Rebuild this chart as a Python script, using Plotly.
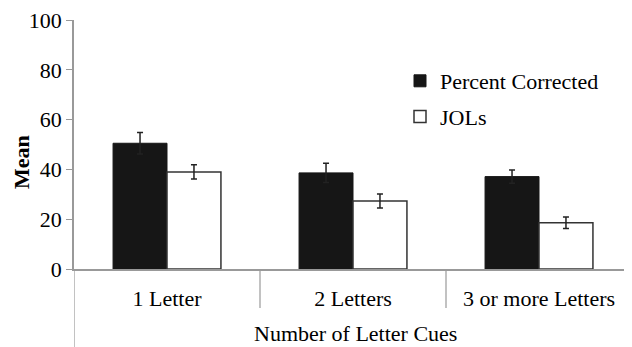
import plotly.graph_objects as go

categories = ["1 Letter", "2 Letters", "3 or more Letters"]
percent_corrected = [50.5, 38.6, 37.1]
percent_corrected_err = [4.3, 3.9, 2.7]
jols = [39.0, 27.3, 18.6]
jols_err = [2.9, 2.8, 2.3]
y_ticks = [0, 20, 40, 60, 80, 100]

FONT = "Times New Roman, Liberation Serif, serif"
FS = 22
OFF = 8  # page body margin
W, H = 632 - OFF, 347 - OFF
L, R, T = 74 - OFF, 0, 20 - OFF
BOTTOM = 269 - OFF
B = H - BOTTOM
plot_h = H - T - B
plot_w = W - L - R

fig = go.Figure()
fig.add_trace(go.Bar(
    x=categories, y=percent_corrected, name="Percent Corrected",
    legendgroup="a",
    marker=dict(color="#161616", line=dict(color="#161616", width=1)),
    error_y=dict(type="data", array=percent_corrected_err, color="#222222",
                 thickness=1.5, width=3),
))
fig.add_trace(go.Bar(
    x=categories, y=jols, name="JOLs",
    legendgroup="b",
    marker=dict(color="white", line=dict(color="#333333", width=1.5)),
    error_y=dict(type="data", array=jols_err, color="#222222",
                 thickness=1.5, width=3),
))

for xv in [0.5, 1.5]:
    fig.add_shape(type="line", xref="x", yref="paper", x0=xv, x1=xv,
                  y0=0, y1=-(308 - 269) / plot_h,
                  line=dict(color="#999999", width=1.2))
fig.add_shape(type="line", xref="x", yref="paper", x0=-0.5, x1=-0.5,
              y0=0, y1=-(347 - 269) / plot_h,
              line=dict(color="#999999", width=1.2))

fig.add_annotation(text="Number of Letter Cues", xref="paper", yref="paper",
                   x=(355 - 74) / plot_w, y=-(319 - 269) / plot_h,
                   xanchor="center", yanchor="top", showarrow=False,
                   font=dict(family=FONT, size=FS, color="black"))
fig.add_annotation(text="<b>Mean</b>", xref="paper", yref="paper",
                   x=(21 - 74) / plot_w, y=(269 - 162) / plot_h,
                   xanchor="center", yanchor="middle", textangle=-90,
                   showarrow=False,
                   font=dict(family=FONT, size=FS, color="black"))

fig.update_layout(
    width=W, height=H,
    margin=dict(l=L, r=R, t=T, b=B, autoexpand=False),
    paper_bgcolor="white", plot_bgcolor="white",
    barmode="group", bargap=0.42, bargroupgap=0,
    font=dict(family=FONT, size=FS, color="black"),
    legend=dict(x=(400 - 74) / plot_w, y=(269 - 60) / plot_h,
                xanchor="left", yanchor="top", bgcolor="rgba(0,0,0,0)",
                traceorder="grouped", tracegroupgap=4,
                font=dict(family=FONT, size=FS, color="black")),
    showlegend=True,
)
fig.update_xaxes(range=[-0.5, 2.5], showline=True, linecolor="#999999",
                 linewidth=1.5, ticks="", showgrid=False, zeroline=False,
                 ticklabelstandoff=9, automargin=False,
                 ticklabeloverflow="allow",
                 tickfont=dict(family=FONT, size=FS, color="black"))
fig.update_yaxes(range=[0, 100], tickvals=y_ticks, showline=True,
                 linecolor="#999999", linewidth=1.5, ticks="outside",
                 ticklen=6, tickcolor="#999999", showgrid=False,
                 zeroline=False, automargin=False,
                 ticklabeloverflow="allow",
                 tickfont=dict(family=FONT, size=FS, color="black"))

fig.write_html("out.html")
